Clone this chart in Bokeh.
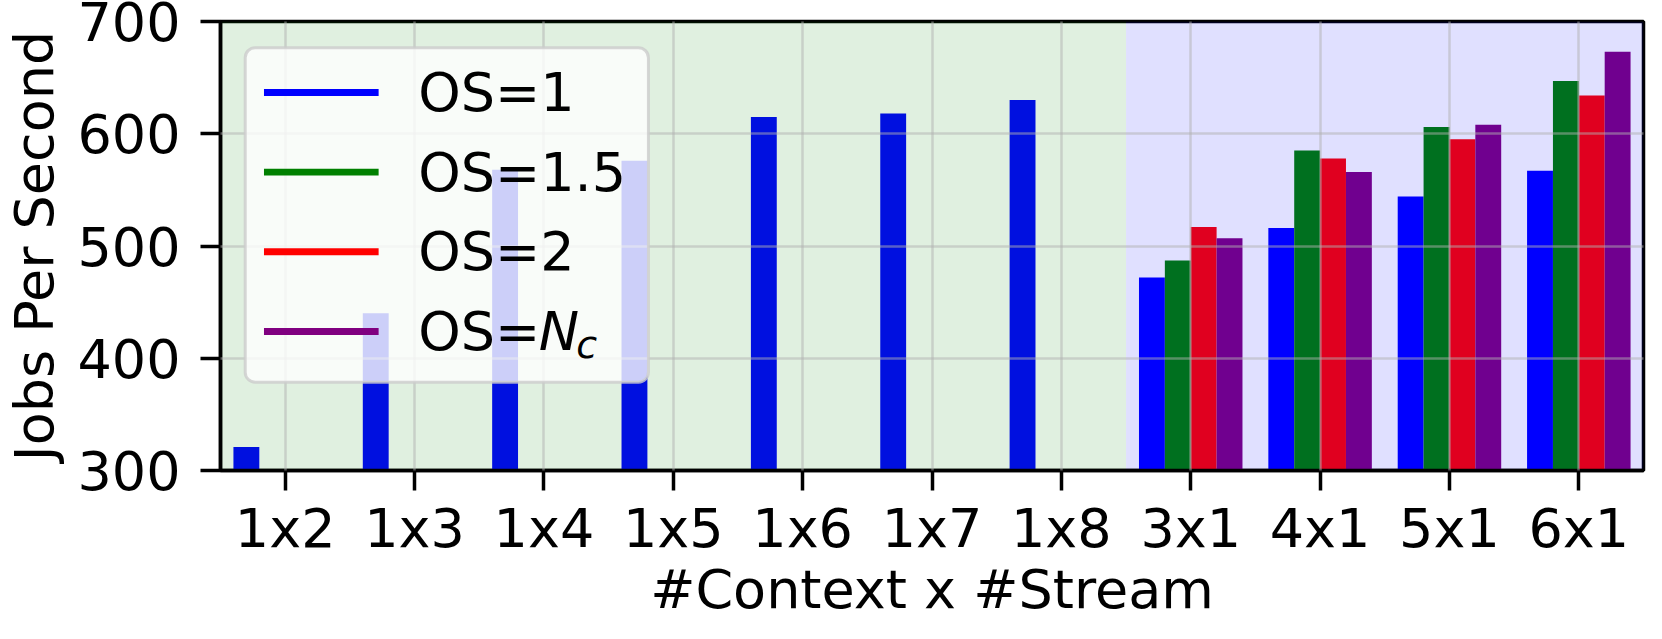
from bokeh.plotting import figure
from bokeh.models import Range1d, FixedTicker, BoxAnnotation, Label
from bokeh.embed import file_html
from bokeh.resources import INLINE

# ---------------- data ----------------
categories = ["1x2", "1x3", "1x4", "1x5", "1x6", "1x7", "1x8", "3x1", "4x1", "5x1", "6x1"]
os_1 = [321, 440, 568, 576, 615, 618, 630, 472, 516, 544, 567]
multi_categories = ["3x1", "4x1", "5x1", "6x1"]
os_1_5 = [487, 585, 606, 647]
os_2 = [517, 578, 595, 634]
os_nc = [507, 566, 608, 673]
y_ticks = [300, 400, 500, 600, 700]
series_labels = ["OS=1", "OS=1.5", "OS=2", "OS="]
series_colors = ["#0000ff", "#008000", "#ff0000", "#800080"]

# ---------------- layout ----------------
FONT = "DejaVu Sans"
FS = "54px"
Y0, Y1 = 300, 700
X0, X1 = -0.5, len(categories) - 0.5
BAR_W = 0.2
offsets = [-0.3, -0.1, 0.1, 0.3]

p = figure(width=1646, height=623, output_backend="svg", toolbar_location=None,
           x_range=Range1d(X0, X1), y_range=Range1d(Y0, Y1),
           min_border_left=214, min_border_right=3, min_border_top=21, min_border_bottom=151)
p.background_fill_color = "white"
p.border_fill_color = "white"
p.outline_line_color = "black"
p.outline_line_width = 3.5

idx = {c: i for i, c in enumerate(categories)}

# bars
p.vbar(x=[i + offsets[0] for i in range(len(categories))], top=os_1, bottom=Y0,
       width=BAR_W, fill_color=series_colors[0], line_color=None)
for k, vals in enumerate([os_1_5, os_2, os_nc], start=1):
    p.vbar(x=[idx[c] + offsets[k] for c in multi_categories], top=vals, bottom=Y0,
           width=BAR_W, fill_color=series_colors[k], line_color=None)

# background regions (drawn over bars with alpha, as in reference)
split = idx[multi_categories[0]] - 0.5
p.add_layout(BoxAnnotation(left=X0, right=split, fill_color="#008000", fill_alpha=0.12,
                           line_color=None, level="glyph"))
p.add_layout(BoxAnnotation(left=split, right=X1, fill_color="#0000ff", fill_alpha=0.12,
                           line_color=None, level="glyph"))

# axes
p.xaxis.ticker = FixedTicker(ticks=list(range(len(categories))))
p.xaxis.major_label_overrides = {i: c for i, c in enumerate(categories)}
p.yaxis.ticker = FixedTicker(ticks=y_ticks)
p.xaxis.axis_label = "#Context x #Stream"
p.yaxis.axis_label = "Jobs Per Second"
for ax in (p.xaxis, p.yaxis):
    ax.axis_label_text_font = FONT
    ax.axis_label_text_font_size = FS
    ax.axis_label_text_font_style = "normal"
    ax.axis_label_text_color = "black"
    ax.major_label_text_font = FONT
    ax.major_label_text_font_size = FS
    ax.major_label_text_color = "black"
    ax.axis_line_width = 3.5
    ax.axis_line_color = "black"
    ax.major_tick_line_width = 3.5
    ax.major_tick_line_color = "black"
    ax.major_tick_out = 20
    ax.major_tick_in = 0
    ax.minor_tick_line_color = None
p.yaxis.major_label_standoff = 20
p.yaxis.axis_label_standoff = 8
p.xaxis.major_label_standoff = 6
p.xaxis.axis_label_standoff = -5

# grid above bars and shading
p.xgrid.level = "annotation"
p.ygrid.level = "annotation"
p.ygrid.ticker = FixedTicker(ticks=y_ticks[1:-1])
for g in (p.xgrid, p.ygrid):
    g.grid_line_color = "#b0b0b0"
    g.grid_line_alpha = 0.5
    g.grid_line_width = 2.5

# ---------------- legend (manual, to allow italic N with subscript c) ----------------
REF_L, REF_T, PX_X, PX_Y = 218.0, 20.7, 130.9, 1.1275

def dx(px):
    return X0 + (px - REF_L) / PX_X

def dy(py):
    return Y1 - (py - REF_T) / PX_Y

p.add_layout(BoxAnnotation(left=dx(243), right=dx(651), top=dy(47), bottom=dy(383),
                           fill_color="white", fill_alpha=0.8, line_color="#cccccc",
                           line_alpha=0.8, line_width=3, border_radius=10, level="overlay"))
for k, (lab, col) in enumerate(zip(series_labels, series_colors)):
    yc = 92 + 80 * k
    p.add_layout(BoxAnnotation(left=dx(262), right=dx(378), top=dy(yc - 3.5), bottom=dy(yc + 3.5),
                               fill_color=col, fill_alpha=1.0, line_color=None, level="overlay"))
    p.add_layout(Label(x=dx(418), y=dy(yc), text=lab, text_font=FONT, text_font_size=FS,
                       text_color="black", text_baseline="middle", text_align="left",
                       level="overlay"))
    if k == 3:
        p.add_layout(Label(x=dx(540), y=dy(yc), text="N", text_font=FONT, text_font_size=FS,
                           text_font_style="italic", text_color="black",
                           text_baseline="middle", text_align="left", level="overlay"))
        p.add_layout(Label(x=dx(578), y=dy(yc + 14), text="c", text_font=FONT, text_font_size="38px",
                           text_font_style="italic", text_color="black",
                           text_baseline="middle", text_align="left", level="overlay"))

open("out.html", "w").write(file_html(p, INLINE))
